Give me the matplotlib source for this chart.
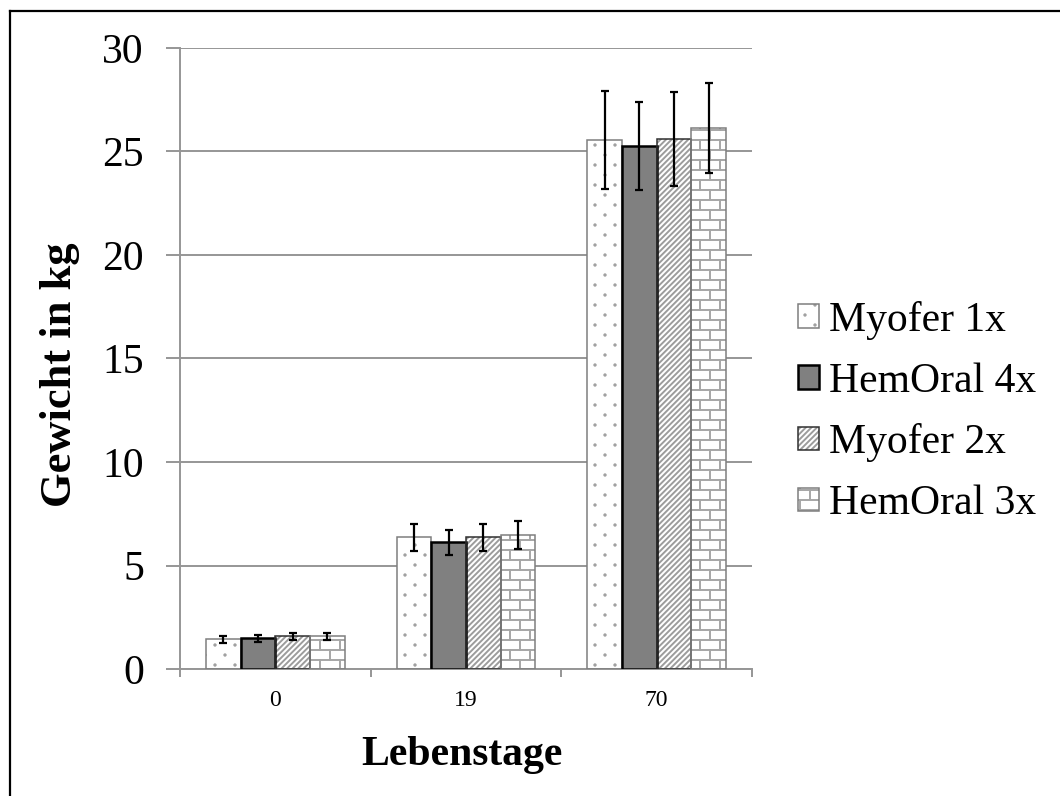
import warnings
warnings.filterwarnings('ignore')
import numpy as np
import matplotlib
matplotlib.use('Agg')
import matplotlib.pyplot as plt
import matplotlib.hatch as mhatch
from matplotlib.path import Path
from matplotlib.lines import Line2D

# ---------------- data ----------------
days = ['0', '19', '70']
series = ['Myofer 1x', 'HemOral 4x', 'Myofer 2x', 'HemOral 3x']
myofer_1x = [1.43, 6.37, 25.55]
myofer_1x_err = [0.17, 0.65, 2.37]
hemoral_4x = [1.48, 6.13, 25.28]
hemoral_4x_err = [0.17, 0.60, 2.12]
myofer_2x = [1.59, 6.37, 25.59]
myofer_2x_err = [0.17, 0.65, 2.27]
hemoral_3x = [1.59, 6.47, 26.15]
hemoral_3x_err = [0.17, 0.68, 2.18]
yticks = [0, 5, 10, 15, 20, 25, 30]


# ---------------- custom hatches (brick 'b', dots 'd') ----------------
class BrickHatch(mhatch.HatchPatternBase):
    def __init__(self, hatch, density):
        n = hatch.count('b')
        self.segs = []
        if n:
            rows, cols = 10, 5
            for k in range(rows + 1):
                y = k / rows
                self.segs.append(((0.0, y), (1.0, y)))
            for k in range(rows):
                y0, y1 = k / rows, (k + 1) / rows
                if k % 2 == 0:
                    xs = [(j + 0.5) / cols for j in range(cols)]
                else:
                    xs = [j / cols for j in range(cols + 1)]
                for x in xs:
                    self.segs.append(((x, y0), (x, y1)))
        self.num_vertices = 2 * len(self.segs)

    def set_vertices_and_codes(self, vertices, codes):
        for i, (a, b) in enumerate(self.segs):
            vertices[2 * i] = a
            vertices[2 * i + 1] = b
            codes[2 * i] = Path.MOVETO
            codes[2 * i + 1] = Path.LINETO


class DotHatch(mhatch.HatchPatternBase):
    def __init__(self, hatch, density):
        n = hatch.count('d')
        self.centers = []
        if n:
            rows, cols = 10, 5
            for k in range(rows):
                y = (k + 0.5) / rows
                off = 0.25 if k % 2 == 0 else 0.75
                for j in range(cols):
                    self.centers.append(((j + off) / cols, y))
        circ = Path.unit_circle()
        self.cv = circ.vertices
        self.cc = circ.codes
        self.num_vertices = len(self.centers) * len(self.cv)

    def set_vertices_and_codes(self, vertices, codes):
        m = len(self.cv)
        r = 0.007
        for i, (cx, cy) in enumerate(self.centers):
            vertices[i * m:(i + 1) * m] = self.cv * r + np.array([cx, cy])
            codes[i * m:(i + 1) * m] = self.cc


mhatch._hatch_types.append(BrickHatch)
mhatch._hatch_types.append(DotHatch)

# ---------------- style ----------------
plt.rcParams['font.family'] = ['Liberation Serif', 'DejaVu Serif']
plt.rcParams['hatch.linewidth'] = 1.4

GRID = '#969696'
values = [myofer_1x, hemoral_4x, myofer_2x, hemoral_3x]
errors = [myofer_1x_err, hemoral_4x_err, myofer_2x_err, hemoral_3x_err]
styles = [
    dict(face='white', hatch='d', hcol='#a0a0a0', edge='#7f7f7f', lw=1.1),
    dict(face='#808080', hatch=None, hcol='#808080', edge='black', lw=1.8),
    dict(face='white', hatch='//////', hcol='#9c9c9c', edge='#303030', lw=1.1),
    dict(face='white', hatch='b', hcol='#a6a6a6', edge='#7f7f7f', lw=1.1),
]

fig = plt.figure(figsize=(10.6, 7.96), dpi=100)
ax = fig.add_axes([180 / 1060, 1 - 669 / 796, 572 / 1060, 621 / 796])

x = np.arange(len(days))
w = 0.182
handles = []
for k, (vals, errs, st) in enumerate(zip(values, errors, styles)):
    pos = x + (k - 1.5) * w
    b1 = ax.bar(pos, vals, w, color=st['face'], edgecolor=st['hcol'],
                linewidth=0, hatch=st['hatch'], zorder=2)
    b2 = ax.bar(pos, vals, w, fill=False, edgecolor=st['edge'],
                linewidth=st['lw'], zorder=3)
    ax.errorbar(pos, vals, yerr=errs, fmt='none', ecolor='black',
                elinewidth=1.6, capsize=3, capthick=1.6, zorder=4)
    handles.append((b1[0], b2[0]))

ax.set_xlim(-0.5, 2.5)
ax.set_ylim(0, 30)
ax.set_yticks(yticks)
ax.yaxis.grid(True, color=GRID, linewidth=1.4)
ax.set_axisbelow(True)

for s in ['top', 'right']:
    ax.spines[s].set_visible(False)
for s in ['left', 'bottom']:
    ax.spines[s].set_color(GRID)
    ax.spines[s].set_linewidth(1.4)

ax.set_xticks([-0.5, 0.5, 1.5, 2.5])
ax.set_xticklabels([])
ax.set_xticks(x, minor=True)
ax.set_xticklabels(days, minor=True, fontsize=17)
ax.tick_params(axis='x', which='major', length=6, width=1.4, color=GRID, direction='out')
ax.tick_params(axis='x', which='minor', length=0, pad=15)
ax.tick_params(axis='y', length=10, width=1.4, color=GRID, direction='out',
               labelsize=30, pad=16)

fig.text(60 / 1060, 1 - 375 / 796, 'Gewicht in kg', rotation=90, ha='center',
         va='center', fontsize=32, fontweight='bold')
fig.text(462 / 1060, 1 - 765 / 796, 'Lebenstage', ha='center', va='baseline',
         fontsize=30, fontweight='bold')

ax.legend(handles, series, loc='center left',
          bbox_to_anchor=(798 / 1060, 1 - 412 / 796), bbox_transform=fig.transFigure,
          frameon=False, fontsize=30, handlelength=0.5, handleheight=0.5,
          handletextpad=0.25, labelspacing=0.54, borderpad=0, borderaxespad=0)

# figure border (left and top visible)
fig.add_artist(Line2D([9.5 / 1060, 9.5 / 1060], [0, 1 - 11 / 796],
                      transform=fig.transFigure, color='black', linewidth=1.6))
fig.add_artist(Line2D([9.5 / 1060, 1], [1 - 11 / 796, 1 - 11 / 796],
                      transform=fig.transFigure, color='black', linewidth=1.6))

fig.savefig('out.png', dpi=100)
